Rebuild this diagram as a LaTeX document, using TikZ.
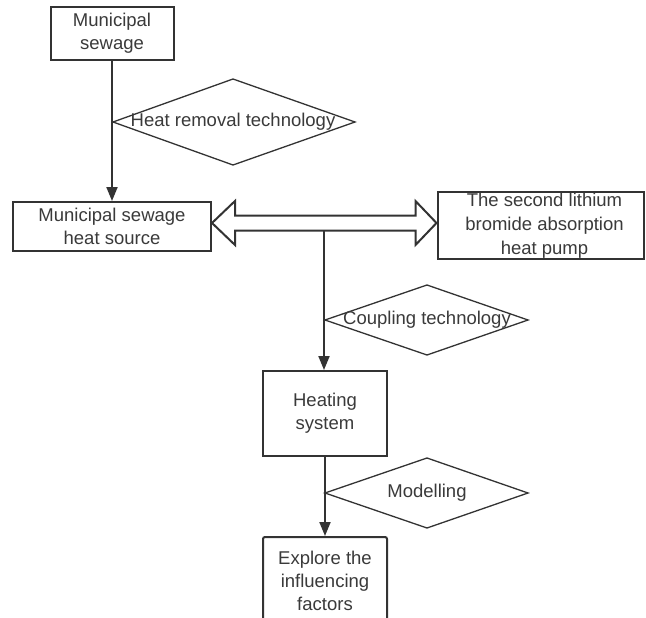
\documentclass[tikz,border=0pt]{standalone}
\usepackage{fontspec}
\setmainfont{Liberation Sans}
\usetikzlibrary{arrows.meta}
\definecolor{ln}{HTML}{333333}
\definecolor{tx}{HTML}{3A3A3A}
\begin{document}
\begin{tikzpicture}[x=1pt,y=-1pt,
  box/.style={draw=ln,line width=2pt,inner sep=0pt,align=center,text=tx,
    font=\fontsize{18.5}{23}\selectfont},
  lab/.style={inner sep=0pt,text=tx,font=\fontsize{18.5}{23}\selectfont},
  flow/.style={draw=ln,line width=2pt,-{Triangle[length=14pt,width=11pt]}},
  dia/.style={draw=ln,line width=1.3pt,line join=miter}]
\useasboundingbox (0,0) rectangle (646,618);
\fill[white] (0,0) rectangle (646,618);

% boxes
\node[box,minimum width=123pt,minimum height=53pt] (b1) at (112,33.5) {Municipal\\sewage};
\node[box,minimum width=198pt,minimum height=49pt] (b2) at (112,226.5) {Municipal sewage\\heat source};
\node[box,minimum width=206pt,minimum height=67pt,font=\fontsize{18.5}{24}\selectfont] (b3) at (540.5,225.5) {\hspace*{8pt}The second lithium\\\hspace*{8pt}bromide absorption\\\hspace*{8pt}heat pump};
\node[box,minimum width=124pt,minimum height=85pt] (hs) at (325,413.5) {Heating\\system};
\node[box,minimum width=124pt,minimum height=88pt,rounded corners=2pt] (ex) at (325,581) {Explore the\\influencing\\factors};

% diamonds (labels on the connectors)
\draw[dia] (113,122) -- (233,79) -- (355,122) -- (233,165) -- cycle;
\node[lab] (d1) at (233,122) {Heat removal technology};
\draw[dia] (325,320) -- (427,285) -- (528,320) -- (427,355) -- cycle;
\node[lab] (d2) at (427,320) {Coupling technology};
\draw[dia] (325,493) -- (427,458) -- (528,493) -- (427,528) -- cycle;
\node[lab] (d3) at (427,493) {Modelling};

% connectors
\draw[flow] (b1.south) -- (b2.north);
\coordinate (L) at ([yshift=3.5pt]b2.east);
\coordinate (R) at ([yshift=2.5pt]b3.west);
\coordinate (J) at (324,230);
\draw[flow] (J) -- (J |- hs.north);
\draw[ln,line width=2pt,line join=miter,fill=white]
  (L) -- ([shift={(23,-22)}]L) -- ([shift={(23,-7.5)}]L)
  -- ([shift={(-21,-7.5)}]R) -- ([shift={(-21,-22)}]R) -- (R)
  -- ([shift={(-21,22)}]R) -- ([shift={(-21,7.5)}]R)
  -- ([shift={(23,7.5)}]L) -- ([shift={(23,22)}]L) -- cycle;
\draw[flow] (hs.south) -- (ex.north);
\end{tikzpicture}
\end{document}
